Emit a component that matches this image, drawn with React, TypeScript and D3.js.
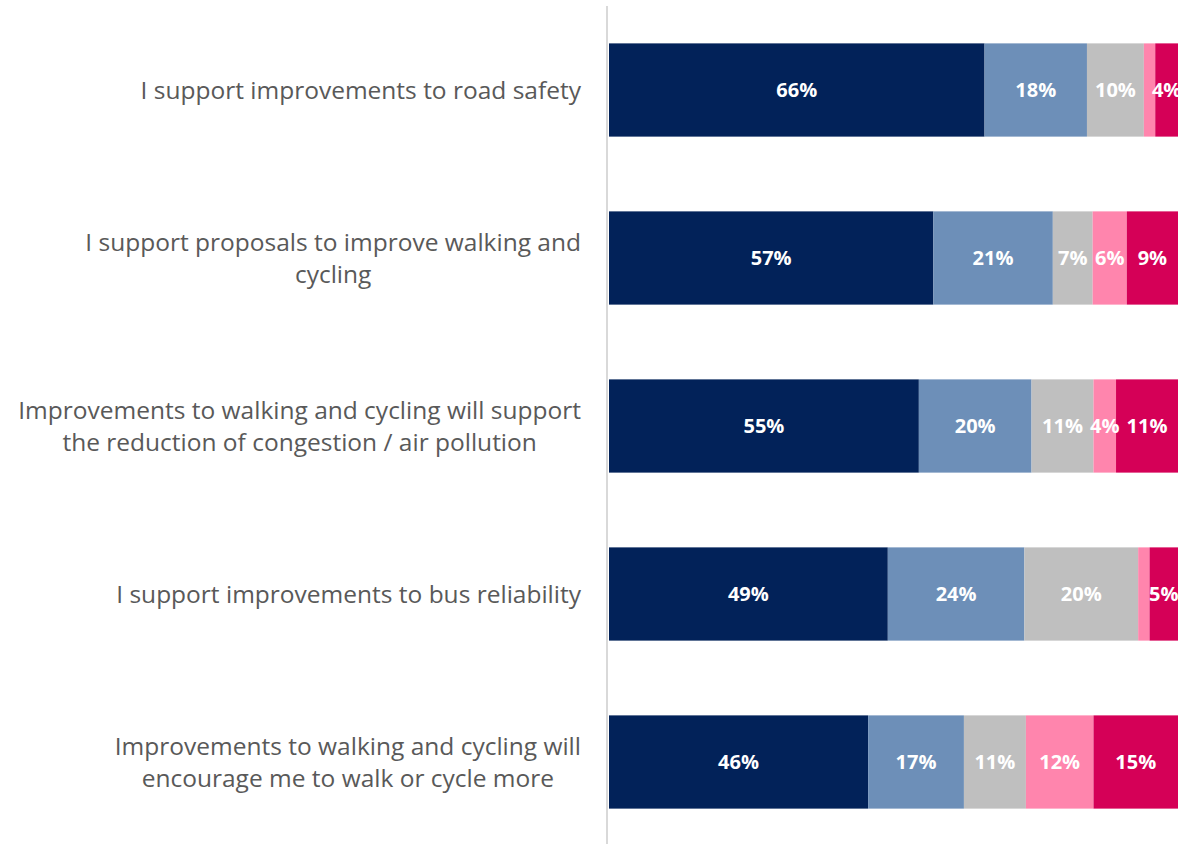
import React from "react";
import * as d3 from "d3";

const categories = [
  ["I support improvements to road safety"],
  ["I support proposals to improve walking and", "cycling"],
  ["Improvements to walking and cycling will support", "the reduction of congestion / air pollution"],
  ["I support improvements to bus reliability"],
  ["Improvements to walking and cycling will", "encourage me to walk or cycle more"],
];
const seriesKeys = ["s1", "s2", "s3", "s4", "s5"];
const s1 = [66, 57, 55, 49, 46];
const s2 = [18, 21, 20, 24, 17];
const s3 = [10, 7, 11, 20, 11];
const s4 = [2, 6, 4, 2, 12];
const s5 = [4, 9, 11, 5, 15];
const colors = ["#022259", "#6d8fb8", "#bfbfbf", "#ff85ad", "#d50057"];

const font = "'Open Sans', 'DejaVu Sans', sans-serif";
const catSize = 24.5;

function measure(text: string): number {
  const c = document.createElement("canvas").getContext("2d")!;
  c.font = `${catSize}px 'Open Sans'`;
  return c.measureText(text).width;
}

export default function App() {
  const W = 1196, H = 844;
  const x0 = 609, x1 = 1178;
  const rows = categories.map((c, i) => ({
    i,
    s1: s1[i], s2: s2[i], s3: s3[i], s4: s4[i], s5: s5[i],
  }));
  const stack = d3.stack<any>().keys(seriesKeys).offset(d3.stackOffsetExpand);
  const layers = stack(rows);
  const x = d3.scaleLinear().domain([0, 1]).range([x0, x1]);
  const y = d3.scaleBand<number>().domain(d3.range(categories.length)).range([6, 846]).paddingInner(0.445).paddingOuter(0.2225);
  const vals = [s1, s2, s3, s4, s5];
  return (
    <svg width={W} height={H} style={{ position: "absolute", left: 0, top: 0, background: "#fff" }}>
      <defs>
        <clipPath id="plot"><rect x={x0} y={0} width={x1 - x0} height={H} /></clipPath>
      </defs>
      <g clipPath="url(#plot)">
        {layers.map((layer, li) => (
          <g key={li}>
            {layer.map((d, ri) => (
              <rect key={ri} x={x(d[0])} y={y(ri)!} width={x(d[1]) - x(d[0])} height={y.bandwidth()} fill={colors[li]} />
            ))}
          </g>
        ))}
        {layers.map((layer, li) => (
          <g key={"t" + li}>
            {layer.map((d, ri) => vals[li][ri] >= 3 ? (
              <text key={ri} x={(x(d[0]) + x(d[1])) / 2} y={y(ri)! + y.bandwidth() / 2} dy="0.36em" textAnchor="middle" fill="#fff" fontFamily={font} fontWeight={700} fontSize={20}>
                {vals[li][ri]}%
              </text>
            ) : null)}
          </g>
        ))}
      </g>
      <line x1={607} x2={607} y1={6} y2={H} stroke="#d9d9d9" strokeWidth={2} />
      {categories.map((lines, i) => {
        const cy = y(i)! + y.bandwidth() / 2;
        const lh = 32;
        const start = cy - ((lines.length - 1) * lh) / 2;
        const maxW = Math.max(...lines.map(measure));
        const cx = 581 - maxW / 2;
        return (
          <text key={i} textAnchor="middle" fill="#595959" fontFamily={font} fontSize={catSize}>
            {lines.map((l, j) => (
              <tspan key={j} x={cx} y={start + j * lh} dy="0.36em">{l}</tspan>
            ))}
          </text>
        );
      })}
    </svg>
  );
}
